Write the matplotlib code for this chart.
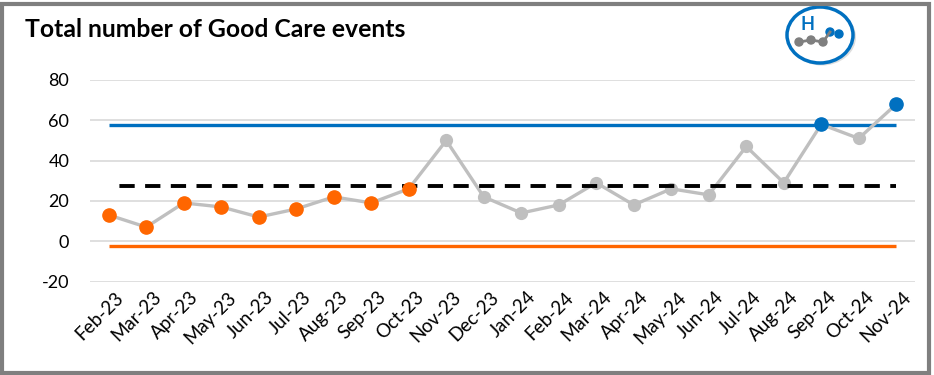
import matplotlib
matplotlib.use("Agg")
import matplotlib.pyplot as plt
from matplotlib.patches import Rectangle, Ellipse, Circle
import matplotlib.transforms as mtransforms

plt.rcParams['font.family'] = ['Lato', 'DejaVu Sans']
plt.rcParams['lines.scale_dashes'] = False

# ---- data ----
months = ['Feb-23', 'Mar-23', 'Apr-23', 'May-23', 'Jun-23', 'Jul-23', 'Aug-23',
          'Sep-23', 'Oct-23', 'Nov-23', 'Dec-23', 'Jan-24', 'Feb-24', 'Mar-24',
          'Apr-24', 'May-24', 'Jun-24', 'Jul-24', 'Aug-24', 'Sep-24', 'Oct-24',
          'Nov-24']
events = [13, 7, 19, 17, 12, 16, 22, 19, 26, 50, 22, 14, 18, 29, 18, 26, 23,
          47, 29, 58, 51, 68]
mean_value = 27.45
upper_limit = 57.6
lower_limit = -2.6
# run of points below the mean (shift) and points above the upper limit
shift_low = ['Feb-23', 'Mar-23', 'Apr-23', 'May-23', 'Jun-23', 'Jul-23',
             'Aug-23', 'Sep-23', 'Oct-23']
above_ucl = ['Sep-24', 'Nov-24']
y_ticks = [-20, 0, 20, 40, 60, 80]

GREY = '#BFBFBF'
ORANGE = '#FF6600'
BLUE = '#0070C0'

W, H = 934, 375
fig = plt.figure(figsize=(W / 100, H / 100), dpi=100)
ax = fig.add_axes([90 / W, 1 - 281.5 / H, (915 - 90) / W, (281.5 - 80) / H])

x = list(range(len(months)))
ax.plot(x, events, color=GREY, lw=2.4, marker='o', ms=8.5,
        markerfacecolor=GREY, markeredgecolor=GREY, zorder=3)

ax.plot([x[0], x[-1]], [upper_limit, upper_limit], color=BLUE, lw=2.4,
        solid_capstyle='butt', zorder=2)
ax.plot([x[0], x[-1]], [lower_limit, lower_limit], color=ORANGE, lw=2.4,
        solid_capstyle='butt', zorder=2)
ax.plot([x[0], x[-1]], [mean_value, mean_value], color='black', lw=2.8,
        linestyle=(11, (11, 7.5)), dash_capstyle='butt', zorder=4)

lx = [months.index(m) for m in shift_low]
ax.plot(lx, [events[i] for i in lx], linestyle='none', marker='o', ms=9.5,
        color=ORANGE, zorder=5)
hx = [months.index(m) for m in above_ucl]
ax.plot(hx, [events[i] for i in hx], linestyle='none', marker='o', ms=9.5,
        color=BLUE, zorder=5)

ax.set_xlim(-0.5, len(months) - 0.5)
ax.set_ylim(-20, 80)
ax.set_yticks(y_ticks)
ax.set_yticklabels([str(v) for v in y_ticks])
ax.grid(axis='y', color='#D9D9D9', lw=1.2)
ax.set_axisbelow(True)
for s in ax.spines.values():
    s.set_visible(False)
ax.tick_params(axis='y', length=0, pad=15, labelsize=13, labelcolor='black')
ax.tick_params(axis='x', length=0, pad=5, labelsize=13.5, labelcolor='black')
ax.set_xticks(x)
ax.set_xticklabels(months, rotation=45, ha='right', va='top',
                   rotation_mode='anchor')
offset = mtransforms.ScaledTranslation(6 / 100, 0, fig.dpi_scale_trans)
for lab in ax.get_xticklabels():
    lab.set_transform(lab.get_transform() + offset)

fig.text(25 / W, 1 - 37 / H, 'Total number of Good Care events',
         fontsize=17.8, fontweight='bold', ha='left', va='baseline')

# outer frame
fig.patches.append(Rectangle((2 / W, 2 / H), (929 - 2) / W, (373 - 4) / H,
                             transform=fig.transFigure, fill=False,
                             edgecolor='#7F7F7F', lw=3, zorder=10))

# badge in the top-right corner
lax = fig.add_axes([780 / W, 1 - 70 / H, 80 / W, 70 / H])
lax.set_xlim(780, 860)
lax.set_ylim(70, 0)
lax.axis('off')
lax.add_patch(Ellipse((822, 37), 68, 57, facecolor='#C8C8C8', edgecolor='none',
                      alpha=0.6))
lax.add_patch(Ellipse((820, 35), 66, 56, facecolor='white', edgecolor=BLUE,
                      lw=2.5))
lax.text(808, 25, 'H', color=BLUE, fontsize=13, fontweight='bold',
         ha='center', va='center')
dots_x = [799, 811, 823, 830, 839]
dots_y = [42, 40, 42, 32, 34]
lax.plot(dots_x[:4], dots_y[:4], color='#7F7F7F', lw=2)
for i, (dx, dy) in enumerate(zip(dots_x, dots_y)):
    lax.add_patch(Circle((dx, dy), 4, color=BLUE if i >= 3 else '#7F7F7F'))

fig.savefig('out.png', dpi=100, facecolor='white')
